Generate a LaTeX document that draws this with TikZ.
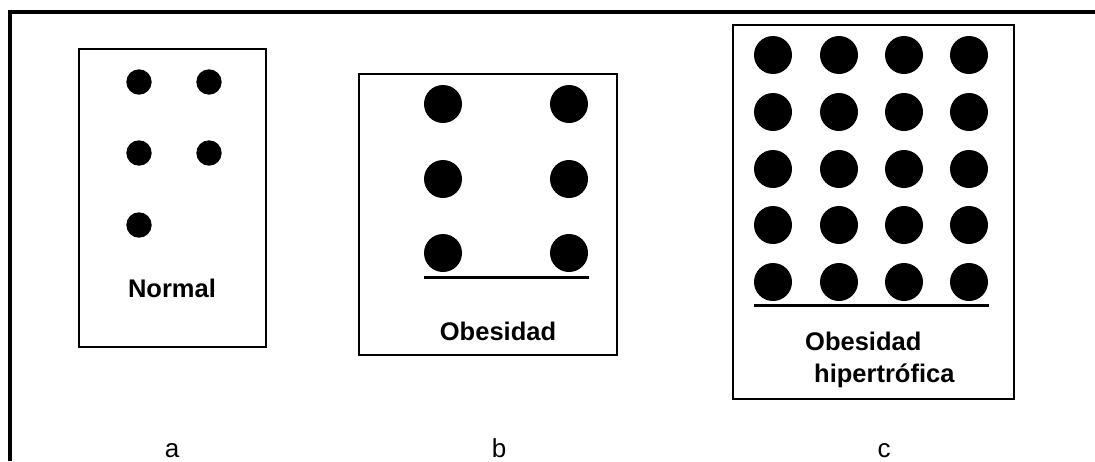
\documentclass[tikz,border=0pt]{standalone}
\usepackage{fontspec}
\setmainfont{Liberation Sans}
\usepackage{tikz}
\usetikzlibrary{positioning}

\begin{document}
\begin{tikzpicture}[x=1pt, y=-1pt,
  cellbox/.style={draw, line width=1.8pt},
  baseline rule/.style={line width=3pt},
  boxlabel/.style={font=\fontsize{25.5}{30}\selectfont\bfseries, inner sep=0pt},
  panellabel/.style={font=\fontsize{26}{30}\selectfont, anchor=base, inner sep=0pt}]

\useasboundingbox (0,0) rectangle (1095,461);

% Outer frame (only top and left edges show)
\draw[line width=4pt] (9.5,461) -- (9.5,12) -- (1095,12);

% Panel a: normal
\draw[cellbox] (79,49) rectangle (266,347);
\fill (139,82) circle (12.7pt) (209,82) circle (12.7pt);
\fill (139,153) circle (12.7pt) (209,153) circle (12.7pt);
\fill (139,225) circle (12.7pt);
\node[boxlabel, anchor=base] (normal) at (172,297) {Normal};

% Panel b: obesity, same count, bigger cells
\draw[cellbox] (359,74) rectangle (617,355);
\fill (443,104) circle (19pt) (569,104) circle (19pt);
\fill (443,179) circle (19pt) (569,179) circle (19pt);
\fill (443,253) circle (19pt) (569,253) circle (19pt);
\coordinate (bl) at (424,277);
\coordinate (br) at (589,277);
\draw[baseline rule] (bl) -- (br);
\node[boxlabel, anchor=base] (obesidad) at (498,340) {Obesidad};

% Panel c: hypertrophic obesity
\draw[cellbox] (733,25) rectangle (1014,399);
\fill (773,55) circle (19pt) (839,55) circle (19pt) (904,55) circle (19pt) (969,55) circle (19pt);
\fill (773,112) circle (19pt) (839,112) circle (19pt) (904,112) circle (19pt) (969,112) circle (19pt);
\fill (773,169) circle (19pt) (839,169) circle (19pt) (904,169) circle (19pt) (969,169) circle (19pt);
\fill (773,225) circle (19pt) (839,225) circle (19pt) (904,225) circle (19pt) (969,225) circle (19pt);
\fill (773,282) circle (19pt) (839,282) circle (19pt) (904,282) circle (19pt) (969,282) circle (19pt);
\coordinate (cl) at (754,305);
\coordinate (cr) at (989,305);
\draw[baseline rule] (cl) -- (cr);
\node[boxlabel, anchor=base west] (obesidadc) at (805,350) {Obesidad};
\node[boxlabel, anchor=base west] (hipertrofica) at (814,382) {hipertrófica};

% Panel letters
\node[panellabel] (labela) at (172,457) {a};
\node[panellabel] (labelb) at (499,457) {b};
\node[panellabel] (labelc) at (884,457) {c};

\end{tikzpicture}
\end{document}
